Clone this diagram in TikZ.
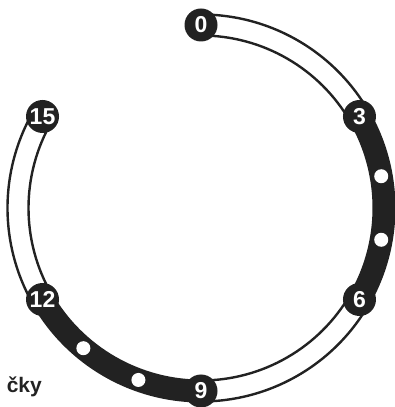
\documentclass[tikz,border=0pt]{standalone}
\usepackage{fontspec}
\setmainfont{Liberation Sans}
\usetikzlibrary{calc}
\definecolor{ink}{HTML}{222222}
\begin{document}
\begin{tikzpicture}[x=1pt,y=1pt,
  num/.style={circle,fill=ink,text=white,minimum size=33pt,inner sep=0pt,font=\bfseries\fontsize{23}{23}\selectfont},
  dot/.style={circle,fill=white,minimum size=14pt,inner sep=0pt},
  rim/.style={draw=ink,line width=2.4pt},
  solidband/.style={draw=ink,line width=23pt}]
\useasboundingbox (0,0) rectangle (395,407);
\coordinate (c) at (201,199);
% outlined bands
\foreach \a/\b in {90/30, -30/-90, 210/150} {
  \draw[rim] ($(c)+(\a:193.5pt)$) arc[start angle=\a, end angle=\b, radius=193.5pt];
  \draw[rim] ($(c)+(\a:172.5pt)$) arc[start angle=\a, end angle=\b, radius=172.5pt];
}
% solid bands
\foreach \a/\b in {30/-30, -90/-150} {
  \draw[solidband] ($(c)+(\a:183pt)$) arc[start angle=\a, end angle=\b, radius=183pt];
}
% dots
\foreach \k in {4,5,10,11} {
  \node[dot] (d\k) at ($(c)+(90-20*\k:183pt)$) {};
}
% numbered nodes
\foreach \k in {0,3,6,9,12,15} {
  \node[num] (n\k) at ($(c)+(90-20*\k:183pt)$) {\k};
}
\node[anchor=base east,inner sep=0pt,text=ink,font=\bfseries\fontsize{21}{21}\selectfont] (lbl) at (42,14) {čky};
\end{tikzpicture}
\end{document}
